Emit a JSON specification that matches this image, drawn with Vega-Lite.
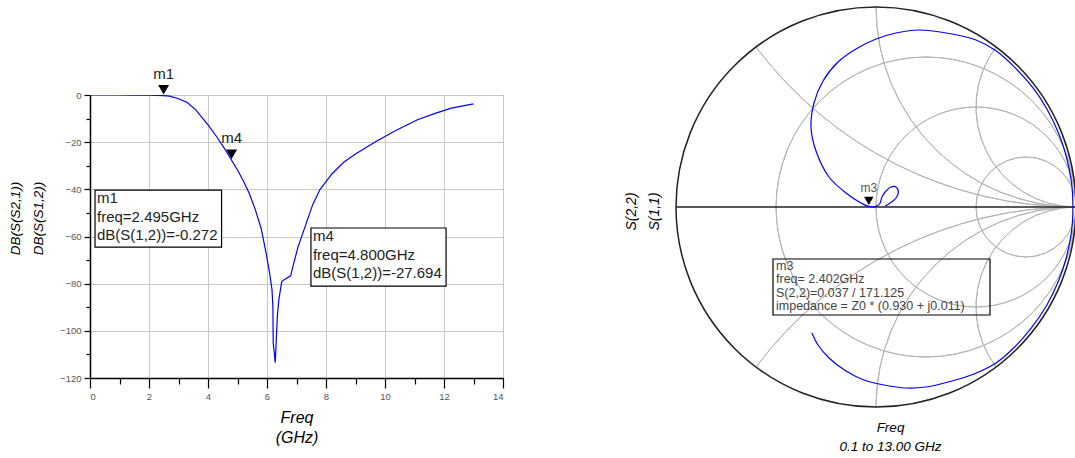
{
  "$schema": "https://vega.github.io/schema/vega-lite/v6.json",
  "background": "white",
  "padding": {"left": 8, "top": 4, "right": 0, "bottom": 0},
  "bounds": "flush",
  "spacing": 173,
  "config": {
    "font": "Liberation Sans",
    "view": {"stroke": null},
    "axis": {"titleFontWeight": "normal", "titleFontStyle": "italic", "titleColor": "#000000", "labelFont": "Liberation Sans", "titleFont": "Liberation Sans"}
  },
  "datasets": {
    "s21": [
      {"f": 0, "db": 0}, {"f": 0.5, "db": 0}, {"f": 1.0, "db": 0}, {"f": 1.5, "db": -0.02},
      {"f": 2.0, "db": -0.08}, {"f": 2.495, "db": -0.272}, {"f": 2.7, "db": -0.5}, {"f": 3.0, "db": -1.6},
      {"f": 3.3, "db": -3.2}, {"f": 3.6, "db": -6.5}, {"f": 4.0, "db": -12.7}, {"f": 4.3, "db": -17.8},
      {"f": 4.6, "db": -23.5}, {"f": 4.8, "db": -27.694}, {"f": 5.0, "db": -31.8}, {"f": 5.2, "db": -36.5},
      {"f": 5.4, "db": -41.8}, {"f": 5.6, "db": -48.5}, {"f": 5.8, "db": -56.5}, {"f": 5.97, "db": -67},
      {"f": 6.09, "db": -75.6}, {"f": 6.17, "db": -82.6}, {"f": 6.2, "db": -89.7}, {"f": 6.21, "db": -105},
      {"f": 6.28, "db": -113.5}, {"f": 6.31, "db": -105}, {"f": 6.35, "db": -94}, {"f": 6.4, "db": -87},
      {"f": 6.5, "db": -79}, {"f": 6.8, "db": -76.7}, {"f": 6.88, "db": -72.7}, {"f": 7.05, "db": -64.5},
      {"f": 7.3, "db": -55.5}, {"f": 7.55, "db": -46.5}, {"f": 7.8, "db": -40}, {"f": 8.2, "db": -33.5},
      {"f": 8.6, "db": -28.5}, {"f": 9.0, "db": -25}, {"f": 9.65, "db": -20}, {"f": 10.3, "db": -15.5},
      {"f": 11.1, "db": -10.5}, {"f": 11.7, "db": -7.8}, {"f": 12.25, "db": -5.6}, {"f": 13.0, "db": -3.8}
    ],
    "rectMarkers": [
      {"name": "m1", "f": 2.495, "db": -0.272},
      {"name": "m4", "f": 4.8, "db": -27.694}
    ],
    "rectBoxes": [
      {"f1": 0.17, "f2": 4.46, "d1": -40.3, "d2": -64.5, "label": "m1\nfreq=2.495GHz\ndB(S(1,2))=-0.272"},
      {"f1": 7.49, "f2": 12.07, "d1": -56.4, "d2": -81.0, "label": "m4\nfreq=4.800GHz\ndB(S(1,2))=-27.694"}
    ],
    "smithGrid": [
      {"cx": 0.25, "cy": 0, "r": 0.75, "t1": 0, "t2": 360},
      {"cx": 0.5, "cy": 0, "r": 0.5, "t1": 0, "t2": 360},
      {"cx": 0.75, "cy": 0, "r": 0.25, "t1": 0, "t2": 360},
      {"cx": 1, "cy": 2, "r": 2, "t1": 180, "t2": 233.13},
      {"cx": 1, "cy": 1, "r": 1, "t1": 180, "t2": 270},
      {"cx": 1, "cy": 0.5, "r": 0.5, "t1": 180, "t2": 306.87},
      {"cx": 1, "cy": -2, "r": 2, "t1": 306.87, "t2": 360},
      {"cx": 1, "cy": -1, "r": 1, "t1": 270, "t2": 360},
      {"cx": 1, "cy": -0.5, "r": 0.5, "t1": 233.13, "t2": 360}
    ],
    "smithOuter": [{"cx": 0, "cy": 0, "r": 1, "t1": 0, "t2": 360}],
    "realAxis": [{"x1": -1, "x2": 1, "y": 0}],
    "s22": [
      {"i": 0, "re": 0.045, "im": 0.004}, {"i": 1, "re": 0.07, "im": 0.02}, {"i": 2, "re": 0.1, "im": 0.045},
      {"i": 3, "re": 0.112, "im": 0.075}, {"i": 4, "re": 0.1, "im": 0.1}, {"i": 5, "re": 0.075, "im": 0.1},
      {"i": 6, "re": 0.05, "im": 0.08}, {"i": 7, "re": 0.03, "im": 0.05}, {"i": 8, "re": 0.018, "im": 0.015},
      {"i": 9, "re": 0.0, "im": 0.003}, {"i": 10, "re": -0.036, "im": 0.003}, {"i": 11, "re": -0.075, "im": 0.02},
      {"i": 12, "re": -0.15, "im": 0.07}, {"i": 13, "re": -0.235, "im": 0.15}, {"i": 14, "re": -0.3, "im": 0.28},
      {"i": 15, "re": -0.325, "im": 0.4}, {"i": 16, "re": -0.31, "im": 0.52}, {"i": 17, "re": -0.265, "im": 0.63},
      {"i": 18, "re": -0.19, "im": 0.725}, {"i": 19, "re": -0.1, "im": 0.79}, {"i": 20, "re": 0.0, "im": 0.84},
      {"i": 21, "re": 0.1, "im": 0.87}, {"i": 22, "re": 0.215, "im": 0.885}, {"i": 23, "re": 0.38, "im": 0.865},
      {"i": 24, "re": 0.5, "im": 0.835}, {"i": 25, "re": 0.6, "im": 0.781}, {"i": 26, "re": 0.696, "im": 0.696},
      {"i": 27, "re": 0.787, "im": 0.593}, {"i": 28, "re": 0.853, "im": 0.4925}, {"i": 29, "re": 0.913, "im": 0.369},
      {"i": 30, "re": 0.951, "im": 0.255}, {"i": 31, "re": 0.978, "im": 0.12}, {"i": 32, "re": 0.985, "im": 0.0},
      {"i": 33, "re": 0.978, "im": -0.12}, {"i": 34, "re": 0.951, "im": -0.255}, {"i": 35, "re": 0.913, "im": -0.369},
      {"i": 36, "re": 0.853, "im": -0.4925}, {"i": 37, "re": 0.776, "im": -0.606}, {"i": 38, "re": 0.684, "im": -0.709},
      {"i": 39, "re": 0.6, "im": -0.78}, {"i": 40, "re": 0.49, "im": -0.835}, {"i": 41, "re": 0.38, "im": -0.87},
      {"i": 42, "re": 0.25, "im": -0.9}, {"i": 43, "re": 0.15, "im": -0.905}, {"i": 44, "re": 0.04, "im": -0.89},
      {"i": 45, "re": -0.06, "im": -0.865}, {"i": 46, "re": -0.15, "im": -0.82}, {"i": 47, "re": -0.235, "im": -0.755},
      {"i": 48, "re": -0.29, "im": -0.69}, {"i": 49, "re": -0.32, "im": -0.63}
    ],
    "smithMarker": [{"name": "m3", "re": -0.036, "im": 0.006}],
    "smithBox": [{"x1": -0.515, "x2": 0.57, "y1": -0.26, "y2": -0.54, "label": "m3\nfreq= 2.402GHz\nS(2,2)=0.037 / 171.125\nimpedance = Z0 * (0.930 + j0.011)"}]
  },
  "hconcat": [
    {
      "width": 413,
      "height": 283,
      "view": {"stroke": "#000000", "strokeWidth": 1},
      "resolve": {"axis": {"x": "independent", "y": "independent"}},
      "layer": [
        {
          "data": {"name": "s21"},
          "mark": {"type": "line", "color": "#0000ff", "strokeWidth": 1.2, "clip": true},
          "encoding": {
            "x": {"field": "f", "type": "quantitative",
              "scale": {"domain": [0, 14], "nice": false, "zero": false},
              "axis": {"orient": "bottom", "values": [0, 2, 4, 6, 8, 10, 12, 14], "format": "d",
                "grid": true, "gridColor": "#c8c8c8", "gridWidth": 1,
                "domainColor": "#000000", "domainWidth": 1.5, "tickColor": "#000000", "tickSize": 10, "tickWidth": 1.2,
                "labelFontSize": 9.5, "labelColor": "#555555", "labelPadding": 3,
                "title": ["Freq", "(GHz)"], "titleFontSize": 16, "titleLineHeight": 20, "titlePadding": 9}},
            "y": {"field": "db", "type": "quantitative",
              "scale": {"domain": [-120, 0], "nice": false, "zero": false},
              "axis": {"orient": "left", "values": [-120, -100, -80, -60, -40, -20, 0], "format": "d",
                "grid": true, "gridColor": "#c8c8c8", "gridWidth": 1,
                "domainColor": "#000000", "domainWidth": 1.5, "tickColor": "#000000", "tickSize": 6, "tickWidth": 1.2,
                "labelFontSize": 9.5, "labelColor": "#555555", "labelPadding": 3,
                "title": ["DB(S(S2,1))", "DB(S(S1,2))"], "titleFontSize": 13.5, "titleLineHeight": 23,
                "titlePadding": 14, "titleY": 123}}
          }
        },
        {
          "data": {"name": "rectMarkers"},
          "mark": {"type": "point", "opacity": 0},
          "encoding": {
            "x": {"field": "f", "type": "quantitative",
              "axis": {"orient": "bottom", "values": [1, 3, 5, 7, 9, 11, 13], "labels": false, "grid": false,
                "domain": false, "tickColor": "#000000", "tickSize": 6, "tickWidth": 1.2, "title": null}},
            "y": {"field": "db", "type": "quantitative",
              "axis": {"orient": "left", "values": [-110, -90, -70, -50, -30, -10], "labels": false, "grid": false,
                "domain": false, "tickColor": "#000000", "tickSize": 4, "tickWidth": 1.2, "title": null}}
          }
        },
        {
          "data": {"name": "rectBoxes"},
          "mark": {"type": "rect", "fill": "#ffffff", "stroke": "#000000", "strokeWidth": 1.2},
          "encoding": {
            "x": {"field": "f1", "type": "quantitative", "axis": null},
            "x2": {"field": "f2"},
            "y": {"field": "d1", "type": "quantitative", "axis": null},
            "y2": {"field": "d2"}
          }
        },
        {
          "data": {"name": "rectBoxes"},
          "mark": {"type": "text", "align": "left", "baseline": "top", "dx": 2, "dy": 1, "lineBreak": "\n",
            "lineHeight": 18.5, "fontSize": 15, "color": "#222222"},
          "encoding": {
            "x": {"field": "f1", "type": "quantitative", "axis": null},
            "y": {"field": "d1", "type": "quantitative", "axis": null},
            "text": {"field": "label", "type": "nominal"}
          }
        },
        {
          "data": {"name": "rectMarkers"},
          "mark": {"type": "point", "shape": "triangle-down", "filled": true, "color": "#000000", "size": 120, "yOffset": -6, "opacity": 1},
          "encoding": {
            "x": {"field": "f", "type": "quantitative", "axis": null},
            "y": {"field": "db", "type": "quantitative", "axis": null}
          }
        },
        {
          "data": {"name": "rectMarkers"},
          "mark": {"type": "text", "fontSize": 15, "dy": -22, "color": "#222222"},
          "encoding": {
            "x": {"field": "f", "type": "quantitative", "axis": null},
            "y": {"field": "db", "type": "quantitative", "axis": null},
            "text": {"field": "name", "type": "nominal"}
          }
        }
      ]
    },
    {
      "width": 400,
      "height": 283,
      "resolve": {"axis": {"x": "independent", "y": "independent"}},
      "encoding": {
        "x": {"type": "quantitative", "scale": {"domain": [-1, 1], "nice": false, "zero": false}},
        "y": {"type": "quantitative", "scale": {"domain": [-0.855, 0.56], "nice": false, "zero": false}}
      },
      "layer": [
        {
          "data": {"name": "smithGrid"},
          "mark": {"type": "arc", "filled": false, "stroke": "#b4b4b4", "strokeWidth": 1},
          "encoding": {
            "x": {"field": "cx", "type": "quantitative",
              "axis": {"orient": "bottom", "labels": false, "ticks": false, "domain": false, "grid": false,
                "title": ["Freq", "0.1 to 13.00 GHz"], "titleFontSize": 13.5, "titleLineHeight": 19,
                "titlePadding": 42, "titleX": 214}},
            "y": {"field": "cy", "type": "quantitative",
              "axis": {"orient": "left", "labels": false, "ticks": false, "domain": false, "grid": false,
                "title": ["S(2,2)", "S(1,1)"], "titleFontSize": 14, "titleLineHeight": 23,
                "titlePadding": 15, "titleY": 116}},
            "radius": {"field": "r", "type": "quantitative", "scale": {"type": "linear", "domain": [0, 1], "range": [0, 200], "zero": true}},
            "radius2": {"field": "r"},
            "theta": {"field": "t1", "type": "quantitative", "stack": null, "scale": {"type": "linear", "domain": [0, 360], "range": [0, 6.283185307179586]}},
            "theta2": {"field": "t2"}
          }
        },
        {
          "data": {"name": "smithOuter"},
          "mark": {"type": "arc", "filled": false, "stroke": "#222222", "strokeWidth": 1.5},
          "encoding": {
            "x": {"field": "cx", "type": "quantitative", "axis": null},
            "y": {"field": "cy", "type": "quantitative", "axis": null},
            "radius": {"field": "r", "type": "quantitative"},
            "radius2": {"field": "r"},
            "theta": {"field": "t1", "type": "quantitative", "stack": null},
            "theta2": {"field": "t2"}
          }
        },
        {
          "data": {"name": "realAxis"},
          "mark": {"type": "rule", "color": "#222222", "strokeWidth": 1.5},
          "encoding": {
            "x": {"field": "x1", "type": "quantitative", "axis": null},
            "x2": {"field": "x2"},
            "y": {"field": "y", "type": "quantitative", "axis": null}
          }
        },
        {
          "data": {"name": "s22"},
          "mark": {"type": "line", "color": "#0000ff", "strokeWidth": 1.2, "interpolate": "catmull-rom"},
          "encoding": {
            "x": {"field": "re", "type": "quantitative", "axis": null},
            "y": {"field": "im", "type": "quantitative", "axis": null},
            "order": {"field": "i", "type": "quantitative"}
          }
        },
        {
          "data": {"name": "smithBox"},
          "mark": {"type": "rect", "fill": "#ffffff", "fillOpacity": 0, "stroke": "#000000", "strokeWidth": 1.2},
          "encoding": {
            "x": {"field": "x1", "type": "quantitative", "axis": null},
            "x2": {"field": "x2"},
            "y": {"field": "y1", "type": "quantitative", "axis": null},
            "y2": {"field": "y2"}
          }
        },
        {
          "data": {"name": "smithBox"},
          "mark": {"type": "text", "align": "left", "baseline": "top", "dx": 3, "dy": 1, "lineBreak": "\n",
            "lineHeight": 13.3, "fontSize": 12.5, "color": "#444444"},
          "encoding": {
            "x": {"field": "x1", "type": "quantitative", "axis": null},
            "y": {"field": "y1", "type": "quantitative", "axis": null},
            "text": {"field": "label", "type": "nominal"}
          }
        },
        {
          "data": {"name": "smithMarker"},
          "mark": {"type": "point", "shape": "triangle-down", "filled": true, "color": "#000000", "size": 90, "yOffset": -5, "opacity": 1},
          "encoding": {
            "x": {"field": "re", "type": "quantitative", "axis": null},
            "y": {"field": "im", "type": "quantitative", "axis": null}
          }
        },
        {
          "data": {"name": "smithMarker"},
          "mark": {"type": "text", "fontSize": 12, "dy": -18, "color": "#555555"},
          "encoding": {
            "x": {"field": "re", "type": "quantitative", "axis": null},
            "y": {"field": "im", "type": "quantitative", "axis": null},
            "text": {"field": "name", "type": "nominal"}
          }
        }
      ]
    }
  ]
}
